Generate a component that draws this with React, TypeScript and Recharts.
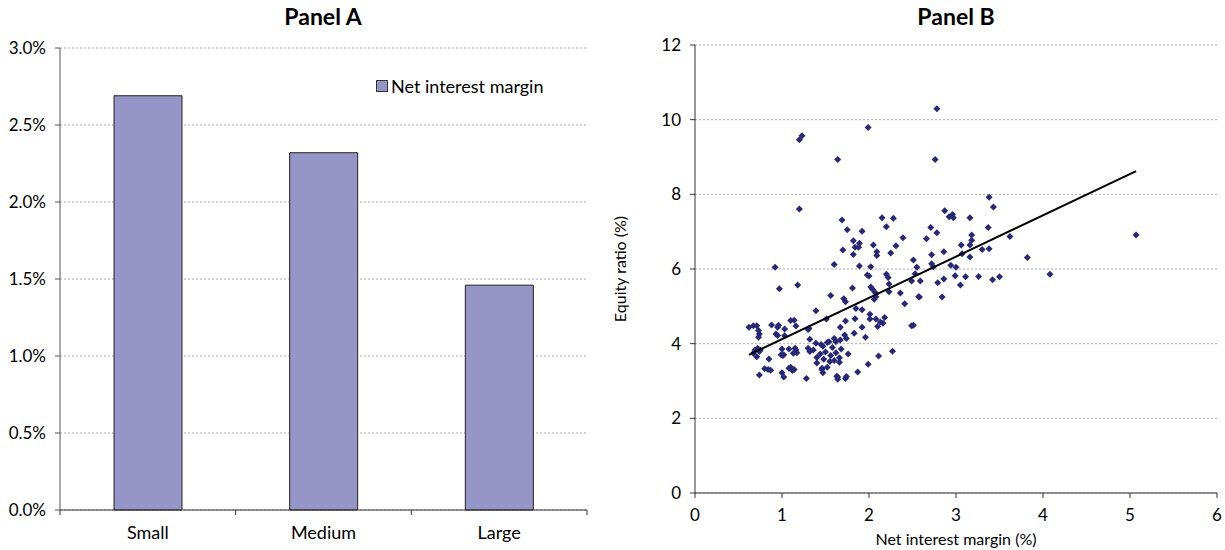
import React from "react";
import {
  BarChart, Bar, XAxis, YAxis, CartesianGrid,
  ScatterChart, Scatter, Label,
} from "recharts";

// Panel A: net interest margin (%) by bank size
const sizeGroups = ["Small", "Medium", "Large"];
const marginBySize = [2.69, 2.32, 1.46];
const marginTicks = [0, 0.5, 1, 1.5, 2, 2.5, 3];

// Panel B: one point per bank, [net interest margin %, equity ratio %]
const bankPoints: [number, number][] = [
  [2.78, 10.29], [1.20, 9.46], [1.23, 9.57], [1.99, 9.79], [1.64, 8.93], [2.76, 8.93],
  [1.20, 7.61], [3.38, 7.92], [3.43, 7.66], [2.87, 7.56], [2.92, 7.40], [2.96, 7.46],
  [2.97, 7.37], [3.16, 7.37], [1.69, 7.31], [2.15, 7.37], [2.28, 7.36], [2.20, 7.13],
  [2.71, 7.11], [3.37, 7.11], [1.75, 7.05], [1.92, 7.01], [2.78, 6.97], [5.07, 6.91],
  [3.18, 6.91], [3.62, 6.87], [2.39, 6.84], [2.66, 6.81], [3.18, 6.77], [1.82, 6.76],
  [1.89, 6.69], [3.06, 6.64], [3.16, 6.64], [2.05, 6.64], [2.31, 6.62], [1.84, 6.58],
  [1.88, 6.58], [3.38, 6.54], [3.30, 6.52], [1.70, 6.51], [2.86, 6.46], [2.09, 6.46],
  [2.25, 6.43], [3.07, 6.41], [1.82, 6.39], [2.72, 6.38], [2.09, 6.36], [3.16, 6.32],
  [3.82, 6.31], [2.51, 6.24], [2.72, 6.14], [1.60, 6.12], [2.94, 6.10], [1.89, 6.08],
  [2.74, 6.06], [2.02, 6.06], [2.55, 6.05], [3.00, 6.05], [0.92, 6.05], [4.08, 5.86],
  [2.53, 5.87], [2.20, 5.86], [1.98, 5.84], [2.00, 5.81], [2.99, 5.82], [3.26, 5.80],
  [3.11, 5.79], [3.50, 5.79], [2.22, 5.77], [2.86, 5.73], [3.42, 5.71], [2.49, 5.68],
  [2.59, 5.68], [2.79, 5.63], [2.23, 5.60], [1.18, 5.57], [3.05, 5.57], [2.02, 5.52],
  [1.81, 5.49], [0.97, 5.47], [2.04, 5.46], [2.23, 5.39], [2.07, 5.37], [2.36, 5.36],
  [1.56, 5.29], [2.08, 5.26], [2.57, 5.26], [2.58, 5.25], [2.84, 5.25], [1.71, 5.20],
  [2.06, 5.19], [1.73, 5.12], [2.41, 5.07], [1.85, 4.94], [1.92, 4.91], [1.39, 4.88],
  [2.01, 4.79], [2.18, 4.70], [1.84, 4.67], [1.51, 4.66], [2.01, 4.66], [2.08, 4.66],
  [1.14, 4.63], [1.10, 4.62], [1.73, 4.61], [2.13, 4.58], [2.16, 4.55], [0.88, 4.50],
  [2.51, 4.49], [2.49, 4.48], [0.96, 4.49], [0.67, 4.48], [0.71, 4.48], [1.16, 4.47],
  [2.10, 4.46], [0.62, 4.44], [0.95, 4.44], [1.92, 4.44], [1.67, 4.44], [1.31, 4.41],
  [1.03, 4.39], [1.30, 4.38], [0.73, 4.35], [1.83, 4.28], [0.93, 4.26], [0.74, 4.26],
  [1.72, 4.23], [0.95, 4.22], [1.03, 4.21], [0.73, 4.17], [1.96, 4.17], [1.74, 4.14],
  [1.60, 4.14], [1.32, 4.12], [1.67, 4.10], [1.62, 4.05], [1.54, 4.05], [1.52, 4.03],
  [1.39, 4.01], [1.45, 3.98], [1.47, 3.93], [1.58, 3.90], [1.30, 3.88], [0.72, 3.88],
  [1.00, 3.86], [1.08, 3.86], [1.15, 3.88], [1.68, 3.86], [1.36, 3.83], [0.69, 3.83],
  [0.75, 3.83], [1.16, 3.83], [2.27, 3.80], [1.32, 3.79], [0.74, 3.79], [1.50, 3.78],
  [1.62, 3.76], [1.17, 3.76], [0.67, 3.74], [1.13, 3.74], [1.44, 3.72], [1.76, 3.72],
  [1.02, 3.70], [0.99, 3.70], [1.56, 3.68], [1.01, 3.68], [2.11, 3.67], [0.71, 3.65],
  [1.40, 3.63], [1.66, 3.62], [0.85, 3.59], [1.48, 3.58], [1.60, 3.55], [1.55, 3.52],
  [1.66, 3.50], [1.99, 3.45], [1.40, 3.48], [1.10, 3.37], [1.52, 3.37], [1.08, 3.34],
  [1.46, 3.34], [0.80, 3.33], [1.14, 3.31], [0.84, 3.31], [1.46, 3.31], [0.87, 3.29],
  [1.12, 3.28], [1.87, 3.24], [1.00, 3.22], [1.47, 3.22], [0.74, 3.16], [1.63, 3.13],
  [1.74, 3.12], [1.02, 3.11], [1.64, 3.11], [1.28, 3.07], [1.73, 3.07], [1.64, 3.05],
];
// fitted trend line ends as drawn in the figure
const trendEnds: [number, number][] = [[0.62, 3.70], [5.07, 8.62]];
const nimTicks = [0, 1, 2, 3, 4, 5, 6];
const equityTicks = [0, 2, 4, 6, 8, 10, 12];

const barData = sizeGroups.map((g, i) => ({ group: g, nim: marginBySize[i] }));
const scatterData = bankPoints.map(([x, y]) => ({ x, y }));
const trendData = trendEnds.map(([x, y]) => ({ x, y }));

const BAR = "#9595c8";
const DOT = "#28287a";
const tickA = { fontSize: 17, fill: "#000" };
const tickB = { fontSize: 17, fill: "#000" };

const Diamond = (p: any) => {
  const { cx, cy } = p;
  const r = 3.5;
  return <path d={`M${cx},${cy - r}L${cx + r},${cy}L${cx},${cy + r}L${cx - r},${cy}Z`} fill={DOT} />;
};

// category label with tick marks on the category boundaries (Excel style)
const CatTick = (p: any) => {
  const { x, y, payload, index, visibleTicksCount } = p;
  const half = payload?.offset ?? 0;
  return (
    <g>
      <line x1={x - half} x2={x - half} y1={y} y2={y + 5} stroke="#333" />
      {index === visibleTicksCount - 1 && <line x1={x + half} x2={x + half} y1={y} y2={y + 5} stroke="#333" />}
      <text x={x} y={y + 29} textAnchor="middle" fontSize={18} fill="#000">{payload.value}</text>
    </g>
  );
};

const title: React.CSSProperties = {
  position: "absolute", top: 2, fontSize: 23, fontWeight: 700, textAlign: "center",
};

export default function App() {
  return (
    <div style={{ position: "absolute", left: 0, top: 0, width: 1225, height: 550, fontFamily: "Lato, sans-serif", background: "#fff" }}>
      <div style={{ ...title, left: 223, width: 200 }}>Panel A</div>
      <div style={{ ...title, left: 856, width: 200 }}>Panel B</div>

      <div style={{ position: "absolute", left: 0, top: 0 }}>
        <BarChart width={600} height={550} data={barData} margin={{ top: 48, right: 13, bottom: 0, left: 0 }}>
          <CartesianGrid vertical={false} strokeDasharray="2 2" stroke="#aaa" />
          <XAxis dataKey="group" height={40} tickLine={false} tickSize={0} tickMargin={0} tick={<CatTick />} stroke="#333" interval={0} />
          <YAxis domain={[0, 3]} ticks={marginTicks} width={60} tickSize={5} tickMargin={9}
            tickFormatter={(v: number) => `${v.toFixed(1)}%`} tick={tickA} stroke="#555" />
          <YAxis yAxisId="border" orientation="right" domain={[0, 3]} width={0} tick={false} tickLine={false} stroke="#aaa" />
          <Bar dataKey="nim" fill={BAR} stroke="#222" strokeWidth={1} barSize={68} isAnimationActive={false} />
        </BarChart>
      </div>

      <div style={{ position: "absolute", left: 376, top: 75, display: "flex", alignItems: "center", fontSize: 18, color: "#000" }}>
        <span style={{ width: 10, height: 10, background: BAR, border: "1px solid #333", marginRight: 3 }} />
        Net interest margin
      </div>

      <div style={{ position: "absolute", left: 600, top: 0 }}>
        <ScatterChart width={625} height={550} margin={{ top: 45, right: 8, bottom: 5, left: 0 }}>
          <CartesianGrid vertical={false} strokeDasharray="2 2" stroke="#aaa" />
          <XAxis type="number" dataKey="x" domain={[0, 6]} ticks={nimTicks} height={52}
            tickSize={5} tickMargin={11} tick={tickB} stroke="#333">
            <Label value="Net interest margin (%)" position="insideBottom" offset={0} style={{ fontSize: 16, fill: "#000" }} />
          </XAxis>
          <YAxis type="number" dataKey="y" domain={[0, 12]} ticks={equityTicks} width={95}
            tickSize={5} tickMargin={9} tick={tickB} stroke="#333">
            <Label value="Equity ratio (%)" angle={-90} position="insideLeft" offset={20}
              style={{ fontSize: 16, fill: "#000", textAnchor: "middle" }} />
          </YAxis>
          <YAxis yAxisId="border" orientation="right" domain={[0, 12]} width={0} tick={false} tickLine={false} stroke="#aaa" />
          <Scatter data={scatterData} shape={Diamond} isAnimationActive={false} />
          <Scatter data={trendData} line={{ stroke: "#000", strokeWidth: 2 }} shape={() => <g />} isAnimationActive={false} />
        </ScatterChart>
      </div>
    </div>
  );
}
